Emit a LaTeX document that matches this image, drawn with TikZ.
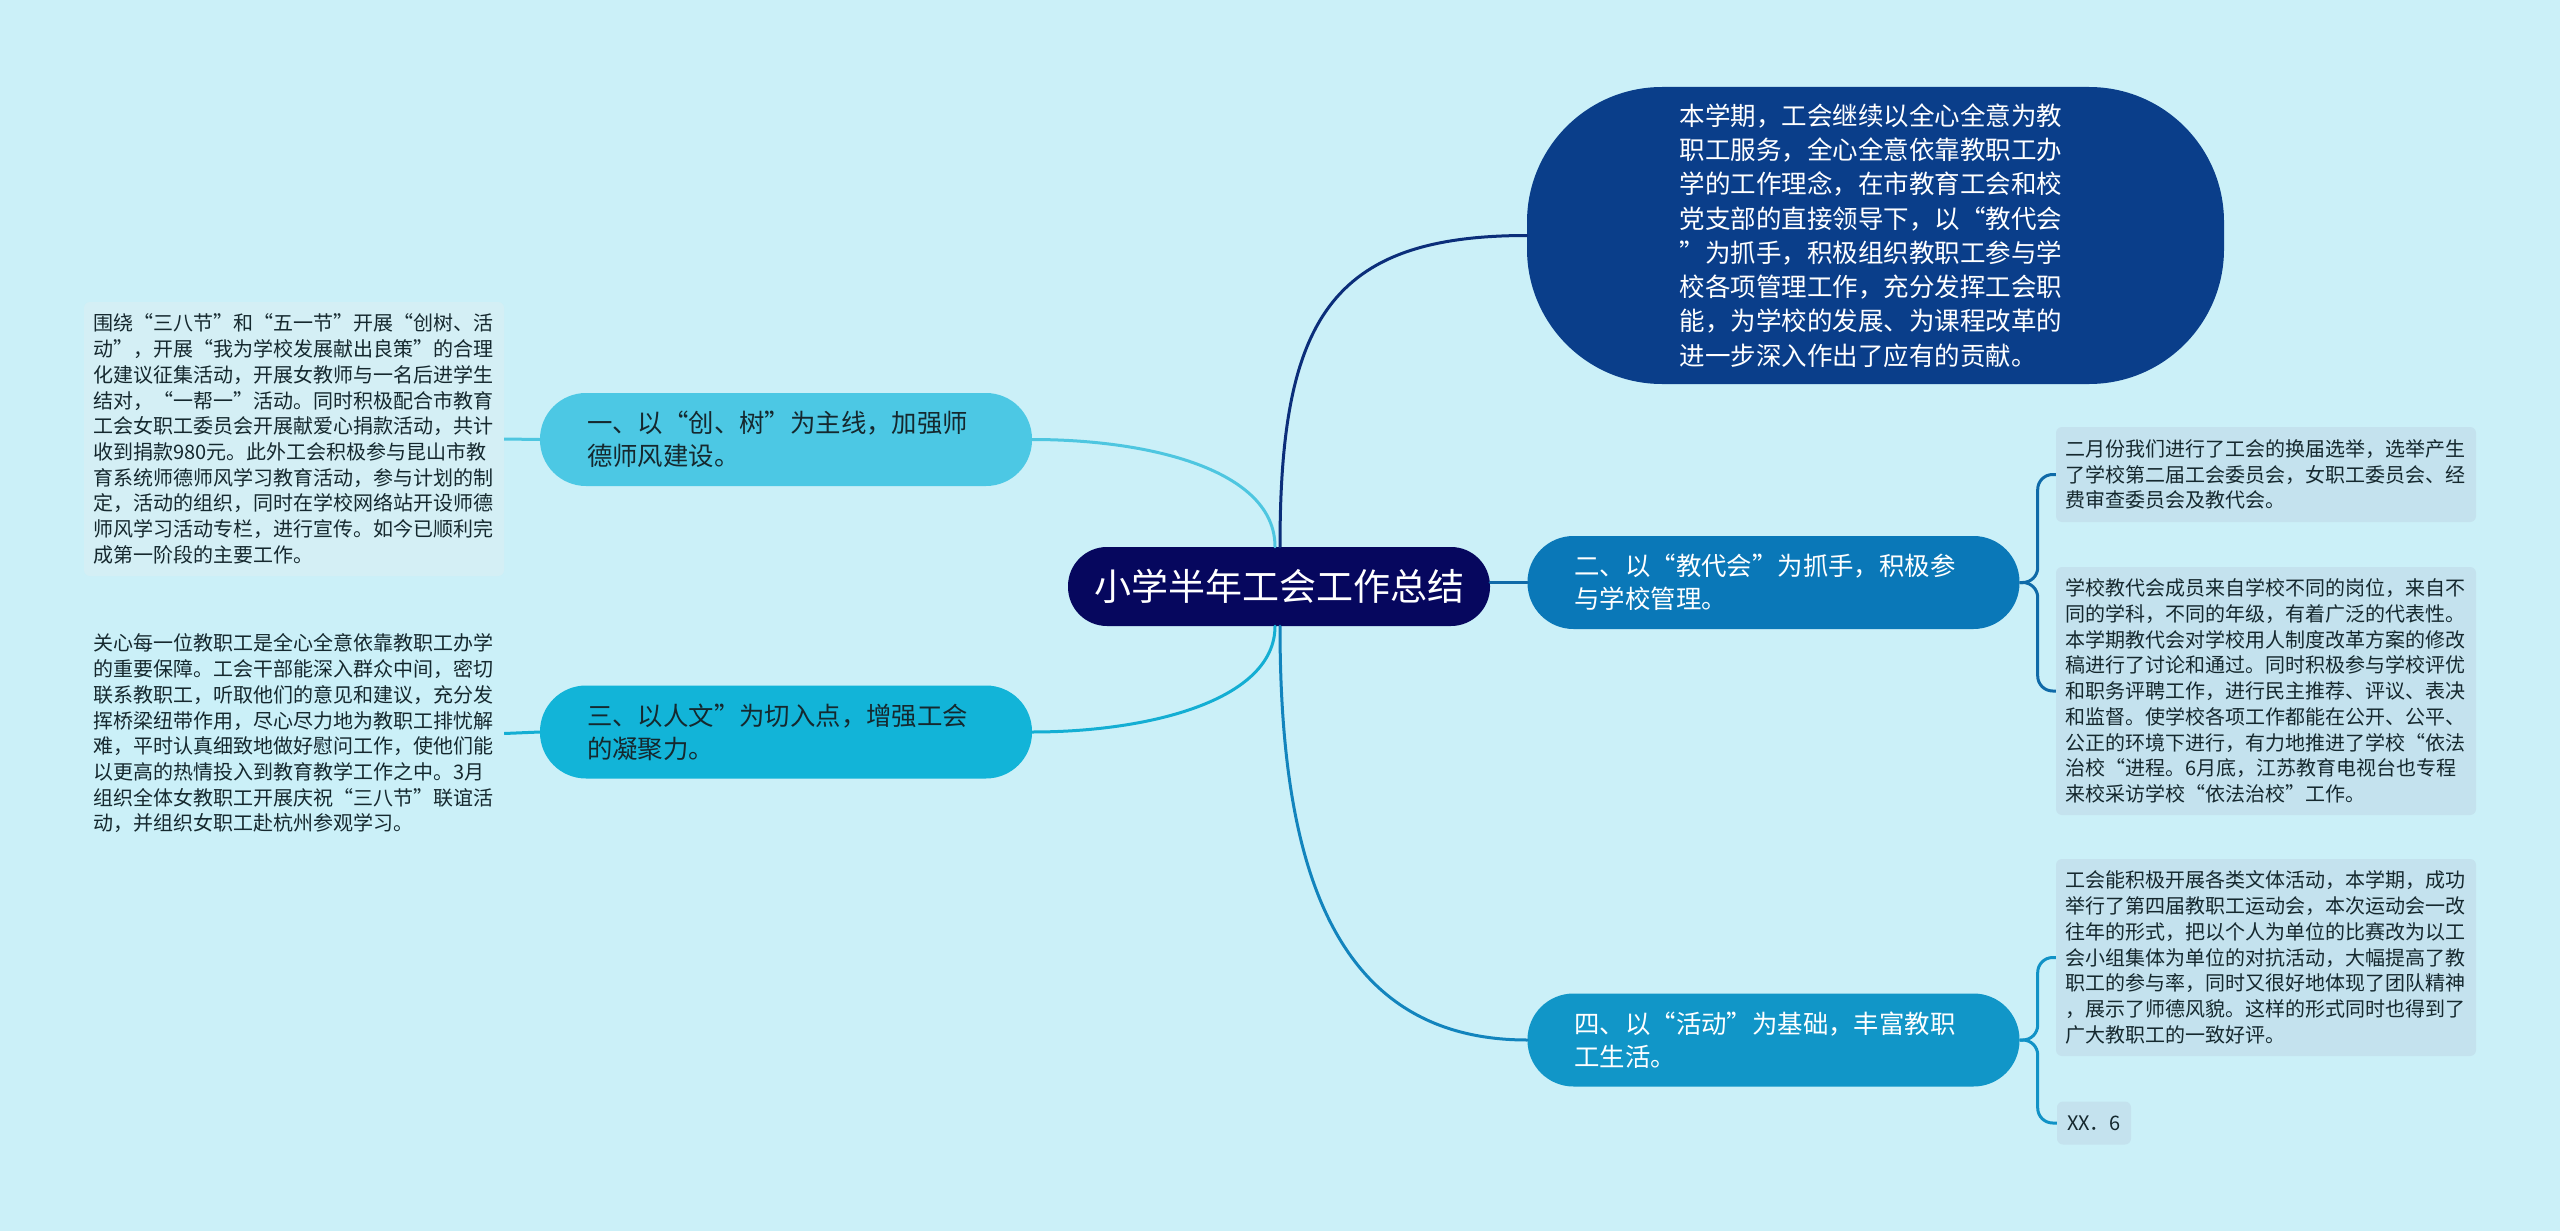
\documentclass[tikz,border=0pt]{standalone}
\usepackage{fontspec}
\setmainfont{Noto Sans CJK SC}
\definecolor{bgc}{HTML}{CBF0F8}
\definecolor{navyc}{HTML}{06075E}
\definecolor{topc}{HTML}{0A3E8A}
\definecolor{b1c}{HTML}{4CC8E4}
\definecolor{b2c}{HTML}{0A78B8}
\definecolor{b3c}{HTML}{12B4D8}
\definecolor{b4c}{HTML}{1196C8}
\definecolor{leafr}{HTML}{C4E2EE}
\definecolor{leafl}{HTML}{D4EFF5}
\definecolor{darktext}{HTML}{15282E}
\definecolor{ctopc}{HTML}{0B2E7A}
\definecolor{c1c}{HTML}{4EC6E0}
\definecolor{c2c}{HTML}{0F6AA8}
\definecolor{c3c}{HTML}{14AED3}
\definecolor{c4c}{HTML}{1284BD}
\definecolor{k4c}{HTML}{1192C6}
\begin{document}
\begin{tikzpicture}[x=1pt,y=-1pt,
  centernode/.style={fill=navyc, rounded corners=39, minimum width=422, minimum height=79,
    text=white, font=\fontsize{37}{44}\selectfont, inner sep=0},
  branch/.style={rounded corners=46, minimum width=492, minimum height=93, inner xsep=47,
    inner ysep=0, text width=398, align=left, font=\fontsize{25.4}{33}\selectfont},
  topnode/.style={fill=topc, rounded corners=135, minimum width=697, minimum height=297,
    text width=392, align=left, text=white, font=\fontsize{25.5}{34.3}\selectfont},
  leafbase/.style={rounded corners=6, inner xsep=9, inner ysep=0, align=left, text=darktext,
    font=\fontsize{20}{25.7}\selectfont},
  leaf/.style={leafbase, text width=402, minimum width=420},
  conn/.style={line width=3, line cap=round},
  brk/.style={line width=3, rounded corners=15}
]
\fill[bgc] (0,0) rectangle (2560,1231);
\useasboundingbox (0,0) rectangle (2560,1231);

% central node
\node[centernode] (c) at (1279,586.5) {小学半年工会工作总结};

% top node
\node[topnode] (top) at (1875.5,235.5) {本学期，工会继续以全心全意为教\\职工服务，全心全意依靠教职工办\\学的工作理念，在市教育工会和校\\党支部的直接领导下，以“教代会\\”为抓手，积极组织教职工参与学\\校各项管理工作，充分发挥工会职\\能，为学校的发展、为课程改革的\\进一步深入作出了应有的贡献。};

% branches
\node[branch, fill=b1c, text=darktext] (b1) at (786,439.5) {一、以“创、树”为主线，加强师\\德师风建设。};
\node[branch, fill=b3c, text=darktext] (b3) at (786,732) {三、以人文”为切入点，增强工会\\的凝聚力。};
\node[branch, fill=b2c, text=white] (b2) at (1773.5,582.5) {二、以“教代会”为抓手，积极参\\与学校管理。};
\node[branch, fill=b4c, text=white] (b4) at (1773.5,1040) {四、以“活动”为基础，丰富教职\\工生活。};

% left leaves
\node[leaf, fill=leafl, minimum height=274] (l1) at (294,439) {围绕“三八节”和“五一节”开展“创树、活\\动”，开展“我为学校发展献出良策”的合理\\化建议征集活动，开展女教师与一名后进学生\\结对，“一帮一”活动。同时积极配合市教育\\工会女职工委员会开展献爱心捐款活动，共计\\收到捐款980元。此外工会积极参与昆山市教\\育系统师德师风学习教育活动，参与计划的制\\定，活动的组织，同时在学校网络站开设师德\\师风学习活动专栏，进行宣传。如今已顺利完\\成第一阶段的主要工作。};
\node[leaf, minimum height=200] (l3) at (294,733.5) {关心每一位教职工是全心全意依靠教职工办学\\的重要保障。工会干部能深入群众中间，密切\\联系教职工，听取他们的意见和建议，充分发\\挥桥梁纽带作用，尽心尽力地为教职工排忧解\\难，平时认真细致地做好慰问工作，使他们能\\以更高的热情投入到教育教学工作之中。3月\\组织全体女教职工开展庆祝“三八节”联谊活\\动，并组织女职工赴杭州参观学习。};

% right leaves
\node[leaf, fill=leafr, minimum height=95] (l2a) at (2266,474.5) {二月份我们进行了工会的换届选举，选举产生\\了学校第二届工会委员会，女职工委员会、经\\费审查委员会及教代会。};
\node[leaf, fill=leafr, minimum height=248] (l2b) at (2266,691) {学校教代会成员来自学校不同的岗位，来自不\\同的学科，不同的年级，有着广泛的代表性。\\本学期教代会对学校用人制度改革方案的修改\\稿进行了讨论和通过。同时积极参与学校评优\\和职务评聘工作，进行民主推荐、评议、表决\\和监督。使学校各项工作都能在公开、公平、\\公正的环境下进行，有力地推进了学校“依法\\治校“进程。6月底，江苏教育电视台也专程\\来校采访学校“依法治校”工作。};
\node[leaf, fill=leafr, minimum height=197] (l4a) at (2266,957.5) {工会能积极开展各类文体活动，本学期，成功\\举行了第四届教职工运动会，本次运动会一改\\往年的形式，把以个人为单位的比赛改为以工\\会小组集体为单位的对抗活动，大幅提高了教\\职工的参与率，同时又很好地体现了团队精神\\，展示了师德风貌。这样的形式同时也得到了\\广大教职工的一致好评。};
\node[leafbase, fill=leafr, minimum width=74, minimum height=43] (l4b) at (2094,1123) {XX．6};

% main connectors
\draw[conn, c1c] (b1.east) .. controls (1150,439.5) and (1275,470) .. ([xshift=-4]c.north);
\draw[conn, c3c] ([xshift=-4]c.south) .. controls (1275,700) and (1150,732) .. (b3.east);
\draw[conn, ctopc] ([xshift=1]c.north) .. controls (1280,320) and (1330,235.5) .. (top.west);
\draw[conn, c4c] ([xshift=1]c.south) .. controls (1280,860) and (1330,1040) .. (b4.west);
\draw[conn, c2c] (b2.west -| c.east) -- (b2.west);

% leaf connectors
\draw[line width=3, c1c] (l1.east) -- (b1.west);
\draw[line width=3, c3c] (l3.east) -- (b3.west);
\draw[brk, c2c] (b2.east) -- ++(18,0) |- (l2a.west);
\draw[brk, c2c] (b2.east) -- ++(18,0) |- (l2b.west);
\draw[brk, k4c] (b4.east) -- ++(18,0) |- (l4a.west);
\draw[brk, k4c] (b4.east) -- ++(18,0) |- (l4b.west);
\end{tikzpicture}
\end{document}
